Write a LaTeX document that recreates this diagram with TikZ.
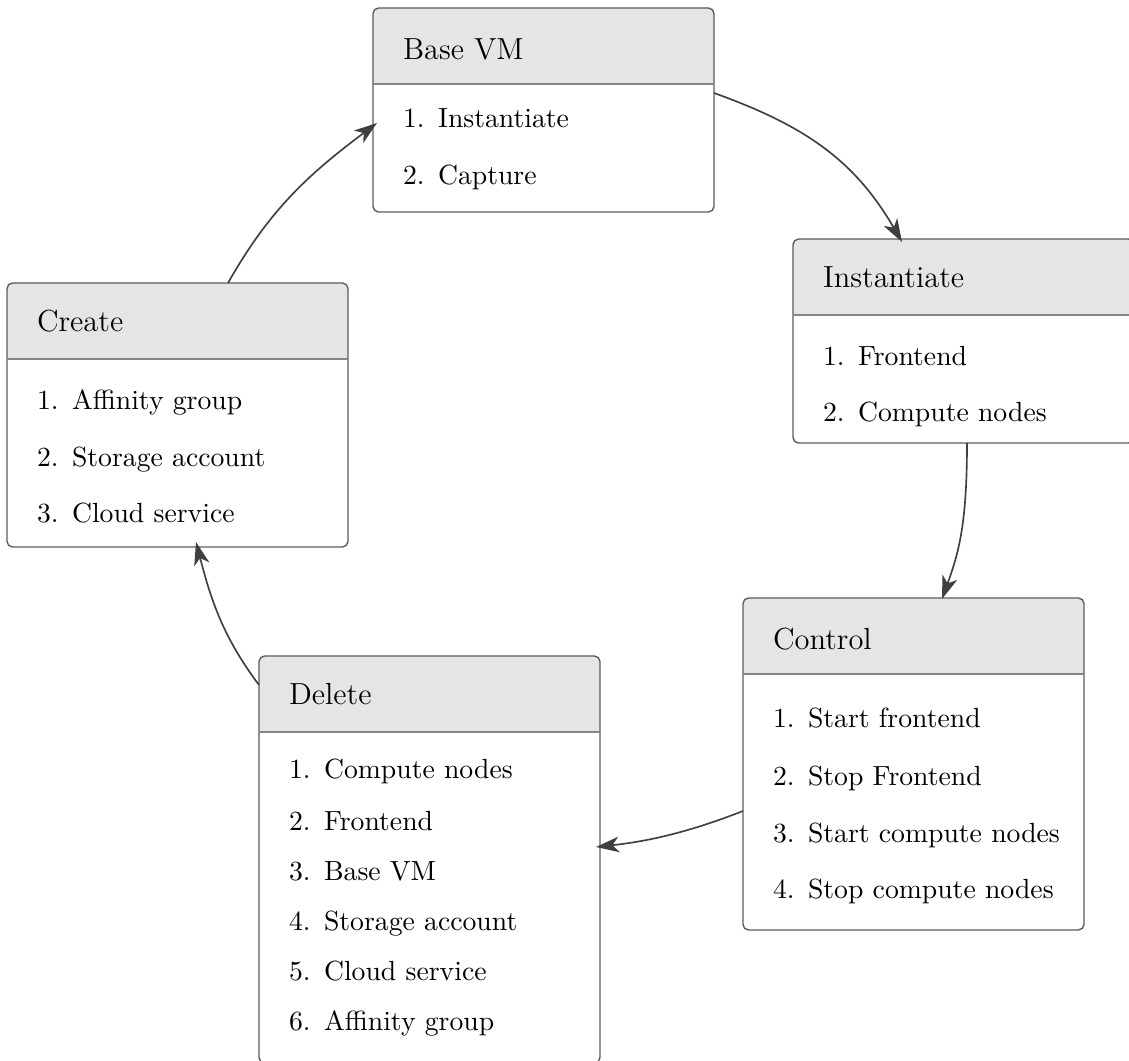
\documentclass[tikz,border=0pt]{standalone}
\usetikzlibrary{arrows.meta}

% one drawing unit
\newlength\pxu
\setlength\pxu{0.361pt}

\definecolor{boxline}{gray}{0.36}
\definecolor{sepline}{gray}{0.52}
\definecolor{headfill}{gray}{0.9}
\definecolor{flow}{gray}{0.25}

\tikzset{
  panel/.style={draw=boxline, line width=0.5pt, rounded corners=2pt,
    inner sep=0pt, outer sep=0pt, anchor=north west, minimum width=341\pxu},
  paneltitle/.style={anchor=base west, inner sep=0pt,
    font=\fontsize{11}{13}\selectfont},
  entry/.style={anchor=base west, inner sep=0pt,
    font=\fontsize{10}{12}\selectfont},
  flowarrow/.style={draw=flow, line width=0.6pt,
    -{Stealth[length=8.3pt,width=5.6pt,inset=2.3pt]}},
}

% #1 name, #2 left, #3 top, #4 bottom, #5 title, #6 title baseline
\newcommand\classpanel[6]{%
  \begin{scope}
    \clip (#2,#3) rectangle (#2+341,#3+76);
    \fill[headfill, rounded corners=2pt] (#2,#3) rectangle (#2+341,#4);
  \end{scope}
  \node[panel, minimum height={(#4-#3)*\pxu}] (#1) at (#2,#3) {};
  \draw[sepline, line width=0.5pt] (#2,#3+76) -- (#2+341,#3+76);
  \node[paneltitle] (#1-title) at (#2+29.5,#6) {#5};
}

% #1 name, #2 left, #3 baseline, #4 number, #5 text
\newcommand\entry[5]{%
  \node[entry] (#1) at (#2+29.5,#3) {\makebox[35\pxu][l]{#4.}#5};
}

\begin{document}
\begin{tikzpicture}[x=\pxu, y=-\pxu]
  \clip (0,0) rectangle (1129,1061);

  \classpanel{base}{373}{8}{212}{Base VM}{60}
  \entry{base-1}{373}{128}{1}{Instantiate}
  \entry{base-2}{373}{185}{2}{Capture}

  \classpanel{inst}{793}{239}{443}{Instantiate}{288}
  \entry{inst-1}{793}{366}{1}{Frontend}
  \entry{inst-2}{793}{422}{2}{Compute nodes}

  \classpanel{create}{7}{283}{547}{Create}{332}
  \entry{create-1}{7}{410}{1}{Affinity group}
  \entry{create-2}{7}{467}{2}{Storage account}
  \entry{create-3}{7}{523}{3}{Cloud service}

  \classpanel{ctrl}{743}{598}{930}{Control}{650}
  \entry{ctrl-1}{743}{728}{1}{Start frontend}
  \entry{ctrl-2}{743}{785}{2}{Stop Frontend}
  \entry{ctrl-3}{743}{842}{3}{Start compute nodes}
  \entry{ctrl-4}{743}{898}{4}{Stop compute nodes}

  \classpanel{del}{259}{656}{1063}{Delete}{705}
  \entry{del-1}{259}{779}{1}{Compute nodes}
  \entry{del-2}{259}{830}{2}{Frontend}
  \entry{del-3}{259}{880}{3}{Base VM}
  \entry{del-4}{259}{930}{4}{Storage account}
  \entry{del-5}{259}{980}{5}{Cloud service}
  \entry{del-6}{259}{1030}{6}{Affinity group}

  % lifecycle transitions
  \draw[flowarrow] ([shift={(0,85)}]base.north east)
    .. controls +(89,32) and +(-48,-83) .. ([shift={(109,3)}]inst.north west);
  \draw[flowarrow] ([shift={(174,0)}]inst.south west)
    .. controls +(0,80) and +(17,-47) .. ([shift={(199,1)}]ctrl.north west);
  \draw[flowarrow] ([shift={(0,213)}]ctrl.north west)
    .. controls +(-51,20) and +(55,-6) .. ([shift={(-4,191)}]del.north east);
  \draw[flowarrow] ([shift={(0,29)}]del.north west)
    .. controls +(-36,-48) and +(15,58) .. ([shift={(189,-5)}]create.south west);
  \draw[flowarrow] ([shift={(221,0)}]create.north west)
    .. controls +(42,-74) and +(-68,51) .. ([shift={(4,115)}]base.north west);
\end{tikzpicture}
\end{document}
